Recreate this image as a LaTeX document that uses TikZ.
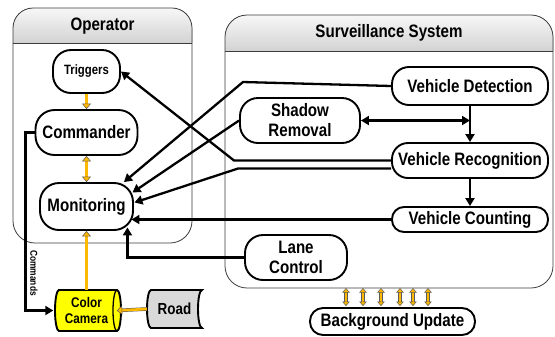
\documentclass[tikz,border=0pt]{standalone}
\usepackage{fontspec}
\setmainfont{Liberation Sans}[FakeStretch=0.84]
\usetikzlibrary{arrows.meta,calc}
\definecolor{ocol}{RGB}{255,184,0}
\definecolor{camy}{RGB}{255,255,0}
\definecolor{roadg}{RGB}{217,217,217}
\definecolor{frame}{RGB}{60,60,60}
\tikzset{
  otip/.tip={Triangle[length=5.5bp,width=9bp,fill=ocol,color=black!65,line width=0.5bp]},
  stip/.tip={Triangle[length=4.5bp,width=7.5bp,fill=ocol,color=black!65,line width=0.5bp]}
}
\begin{document}
\begin{tikzpicture}[x=1bp,y=1bp,
  box/.style={draw=black, line width=1.9bp, fill=white, inner sep=0pt, align=center,
    font=\bfseries\fontsize{18bp}{20bp}\selectfont},
  plain/.style={inner sep=0pt, align=center, font=\bfseries\fontsize{18bp}{20bp}\selectfont},
  arr/.style={line width=2.3bp, -{Triangle[length=8bp,width=9bp]}},
  darr/.style={line width=2.3bp, {Triangle[length=8bp,width=9bp]}-{Triangle[length=8bp,width=9bp]}},
  orr/.style={draw=ocol, line width=2.6bp, -otip,
    preaction={draw=black!65, line width=3.6bp, -, shorten >=5bp}},
  dorr/.style={draw=ocol, line width=2.6bp, otip-otip,
    preaction={draw=black!65, line width=3.6bp, -, shorten >=5bp, shorten <=5bp}},
  sorr/.style={draw=ocol, line width=2.2bp, stip-stip,
    preaction={draw=black!65, line width=3.2bp, -, shorten >=4bp, shorten <=4bp}},
  hdr/.style={top color=gray!6, bottom color=gray!35},
  frm/.style={draw=frame, line width=0.8bp}
]
\useasboundingbox (0,-336) rectangle (555,0);

% Operator container
\fill[hdr] (13,-43) -- (13,-28) arc[start angle=180,end angle=90,radius=20] -- (172,-8) arc[start angle=90,end angle=0,radius=20] -- (192,-43) -- cycle;
\draw[frm] (13,-43) -- (13,-28) arc[start angle=180,end angle=90,radius=20] -- (172,-8) arc[start angle=90,end angle=0,radius=20] -- (192,-43);
\draw[frm] (13,-43) -- (192,-43);
\draw[frm] (13,-43) -- (13,-221) arc[start angle=180,end angle=270,radius=22] -- (170,-243) arc[start angle=270,end angle=360,radius=22] -- (192,-43);
\node[plain] (optitle) at (102.5,-26) {Operator};

% Surveillance container
\fill[hdr] (225,-51) -- (225,-37) arc[start angle=180,end angle=90,radius=22] -- (531,-15) arc[start angle=90,end angle=0,radius=22] -- (553,-51) -- cycle;
\draw[frm] (225,-51) -- (225,-37) arc[start angle=180,end angle=90,radius=22] -- (531,-15) arc[start angle=90,end angle=0,radius=22] -- (553,-51);
\draw[frm] (225,-51) -- (553,-51);
\draw[frm] (225,-51) -- (225,-266) arc[start angle=180,end angle=270,radius=22] -- (531,-288) arc[start angle=270,end angle=360,radius=22] -- (553,-51);
\node[plain] (svtitle) at (389,-33) {Surveillance System};

% Operator nodes
\node[box, rounded corners=18bp, minimum width=67bp, minimum height=43bp,
  font=\bfseries\fontsize{13.5bp}{15bp}\selectfont] (trig) at (86.5,-71.5) {Triggers};
\node[box, rounded corners=19bp, minimum width=102bp, minimum height=45bp] (com) at (86.5,-132.5) {Commander};
\node[box, rounded corners=19bp, minimum width=93bp, minimum height=47bp] (mon) at (86.5,-206.5) {Monitoring};

% Camera shape
\draw[fill=camy, line width=1.9bp] (59,-290) -- (117,-290)
  arc[start angle=90,end angle=-90,x radius=4,y radius=20.5] -- (59,-331)
  arc[start angle=-90,end angle=-270,x radius=4,y radius=20.5] -- cycle;
\draw[line width=1.3bp] (117,-290) arc[start angle=90,end angle=270,x radius=4,y radius=20.5];
\node[plain, minimum width=66bp, minimum height=41bp,
  font=\bfseries\fontsize{14bp}{15.5bp}\selectfont] (cam) at (86.5,-310.5) {Color\\Camera};

% Road shape
\draw[fill=roadg, line width=1.9bp] (151,-290) -- (202,-290)
  arc[start angle=90,end angle=270,x radius=4,y radius=19] -- (151,-328)
  arc[start angle=270,end angle=90,x radius=4,y radius=19] -- cycle;
\node[plain, minimum width=55bp, minimum height=38bp,
  font=\bfseries\fontsize{16bp}{18bp}\selectfont] (road) at (174.5,-309) {Road};

% Surveillance nodes
\node[box, rounded corners=17bp, minimum width=156bp, minimum height=38bp] (vd) at (470,-86) {Vehicle Detection};
\node[box, rounded corners=18bp, minimum width=120bp, minimum height=45bp] (sr) at (300,-120.5) {Shadow\\Removal};
\node[box, rounded corners=16bp, minimum width=156bp, minimum height=35bp] (vr) at (470,-160.5) {Vehicle Recognition};
\node[box, rounded corners=12bp, minimum width=156bp, minimum height=25bp] (vc) at (470,-219.5) {Vehicle Counting};
\node[box, rounded corners=18bp, minimum width=102bp, minimum height=45bp] (lc) at (296,-257.5) {Lane\\Control};
\node[box, rounded corners=13bp, minimum width=165bp, minimum height=27bp] (bu) at (392.5,-321.5) {Background Update};

% bend points
\coordinate (b1) at (243,-82);
\coordinate (b2) at (234,-160.5);
\coordinate (b3) at (238,-168.5);

% black connectors
\draw[arr] (vd.west) -- (b1) -- ($(mon.north east)+(-10,0)$);
\draw[arr] (sr.west) -- ($(mon.east)+(-1.5,14)$);
\draw[arr] (vr.west) -- (b2) -- (trig.east);
\draw[arr] ($(vr.west)+(0,-8)$) -- (b3) -- ($(mon.east)+(0.5,4)$);
\draw[arr] (vc.west) -- ($(mon.east |- vc.west)+(-2.5,0)$);
\draw[arr] (lc.west) -| ($(mon.south east)+(-6.5,3.5)$);
\draw[arr] (vd.south) -- (vr.north);
\draw[darr] (sr.east) -- (sr.east -| vd.south);
\draw[arr] (vr.south) -- (vc.north);
\draw[arr] (com.west) -- ++(-9,0) |- (cam.west);
\node[font=\bfseries\fontsize{10bp}{11bp}\selectfont, rotate=-90, inner sep=0pt] (cmdlabel) at (34,-273) {Commands};

% orange connectors
\draw[orr] (trig.south) -- (com.north);
\draw[dorr] (com.south) -- (mon.north);
\draw[orr] (cam.north) -- (mon.south);
\draw[orr] (road.west) -- ($(cam.east)+(-3,0)$);
\foreach \dx in {-46.5,-29.5,-11.5,7.5,20.5,35.5}
  \draw[sorr] ($(bu.north)+(\dx,1)$) -- ($(bu.north)+(\dx,19)$);
\end{tikzpicture}
\end{document}
